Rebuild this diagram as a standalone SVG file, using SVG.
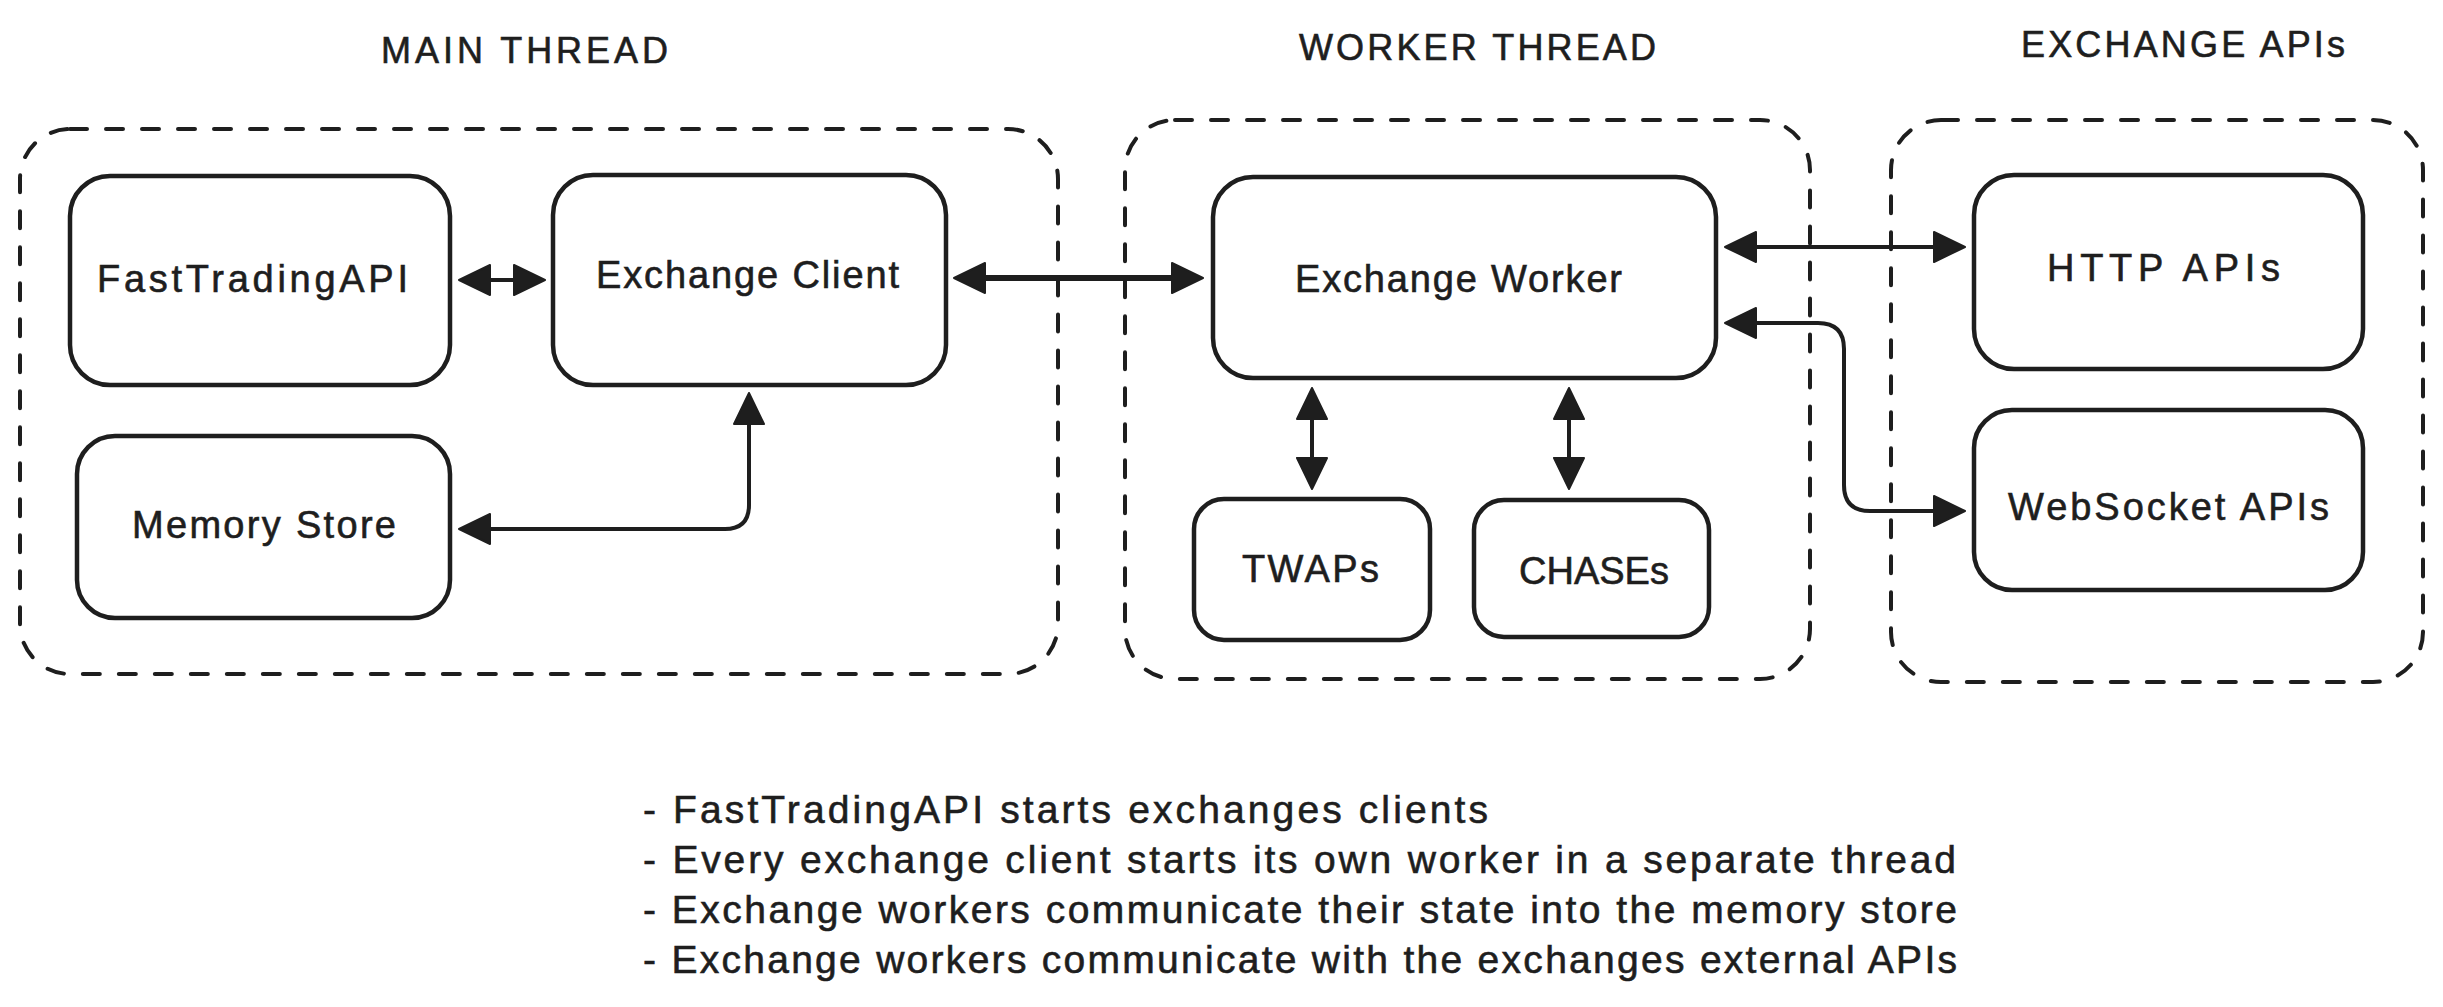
<svg xmlns="http://www.w3.org/2000/svg" width="2443" height="1007" viewBox="0 0 2443 1007">
  <style>
    .bg { fill: #ffffff; }
    .container { fill: none; stroke: #1e1e1e; stroke-width: 4; stroke-dasharray: 17 19; stroke-linecap: round; }
    .box { fill: none; stroke: #1e1e1e; stroke-width: 4.5; }
    .label { font-family: "Liberation Sans", Arial, sans-serif; font-size: 38px; fill: #1e1e1e; stroke: #1e1e1e; stroke-width: 0.6; }
    .title { font-family: "Liberation Sans", Arial, sans-serif; font-size: 36px; fill: #1e1e1e; stroke: #1e1e1e; stroke-width: 0.6; }
    .note { font-family: "Liberation Sans", Arial, sans-serif; font-size: 39px; fill: #1e1e1e; stroke: #1e1e1e; stroke-width: 0.6; }
    .conn { fill: none; stroke: #1e1e1e; stroke-width: 4; stroke-linecap: butt; stroke-linejoin: round; marker-start: url(#head); marker-end: url(#head); }
    .thick { stroke-width: 6; }
  </style>
  <defs>
    <marker id="head" markerUnits="userSpaceOnUse" markerWidth="34" markerHeight="34" viewBox="-2 -2 34 34" refX="21" refY="15" orient="auto-start-reverse">
      <path d="M0,0 L31,15 L0,30 Z" fill="#1e1e1e" stroke="#1e1e1e" stroke-width="2" stroke-linejoin="round"/>
    </marker>
  </defs>
  <rect class="bg" x="0" y="0" width="2443" height="1007"/>

  <g id="main-thread">
    <rect class="container" x="20" y="129" width="1038" height="545" rx="50" ry="50"/>
    <text class="title" x="381" y="63" textLength="287">MAIN THREAD</text>
  </g>
  <g id="worker-thread">
    <rect class="container" x="1125" y="120" width="685" height="559" rx="50" ry="50"/>
    <text class="title" x="1299" y="60" textLength="357">WORKER THREAD</text>
  </g>
  <g id="exchange-apis">
    <rect class="container" x="1891" y="120" width="532" height="562" rx="50" ry="50"/>
    <text class="title" x="2021" y="57" textLength="324">EXCHANGE APIs</text>
  </g>

  <g id="fast-trading-api">
    <rect class="box" x="70" y="176" width="380" height="209" rx="40" ry="40"/>
    <text class="label" x="97" y="292" textLength="311">FastTradingAPI</text>
  </g>
  <g id="exchange-client">
    <rect class="box" x="553" y="175" width="393" height="210" rx="40" ry="40"/>
    <text class="label" x="596" y="288" textLength="303">Exchange Client</text>
  </g>
  <g id="memory-store">
    <rect class="box" x="77" y="436" width="373" height="182" rx="38" ry="38"/>
    <text class="label" x="132" y="538" textLength="264">Memory Store</text>
  </g>
  <g id="exchange-worker">
    <rect class="box" x="1213" y="177" width="503" height="201" rx="40" ry="40"/>
    <text class="label" x="1295" y="292" textLength="327">Exchange Worker</text>
  </g>
  <g id="twaps">
    <rect class="box" x="1194" y="499" width="236" height="141" rx="30" ry="30"/>
    <text class="label" x="1242" y="582" textLength="137">TWAPs</text>
  </g>
  <g id="chases">
    <rect class="box" x="1474" y="500" width="235" height="137" rx="30" ry="30"/>
    <text class="label" x="1594" y="584" text-anchor="middle">CHASEs</text>
  </g>
  <g id="http-apis">
    <rect class="box" x="1974" y="175" width="389" height="194" rx="40" ry="40"/>
    <text class="label" x="2047" y="281" textLength="233">HTTP APIs</text>
  </g>
  <g id="websocket-apis">
    <rect class="box" x="1974" y="410" width="389" height="180" rx="38" ry="38"/>
    <text class="label" x="2008" y="520" textLength="321">WebSocket APIs</text>
  </g>

  <g id="connectors">
    <path class="conn" d="M469,280 L535,280"/>
    <path class="conn thick" d="M964,278 L1193,278"/>
    <path class="conn" d="M469,529 L725,529 Q749,529 749,505 L749,403"/>
    <path class="conn" d="M1312,398 L1312,479"/>
    <path class="conn" d="M1569,398 L1569,479"/>
    <path class="conn" d="M1735,247 L1955,247"/>
    <path class="conn" d="M1735,323 L1818,323 Q1844,323 1844,349 L1844,485 Q1844,511 1870,511 L1955,511"/>
  </g>

  <g id="notes">
    <text class="note" x="643" y="823" textLength="845">- FastTradingAPI starts exchanges clients</text>
    <text class="note" x="643" y="873" textLength="1313">- Every exchange client starts its own worker in a separate thread</text>
    <text class="note" x="643" y="923" textLength="1314">- Exchange workers communicate their state into the memory store</text>
    <text class="note" x="643" y="973" textLength="1314">- Exchange workers communicate with the exchanges external APIs</text>
  </g>
</svg>
